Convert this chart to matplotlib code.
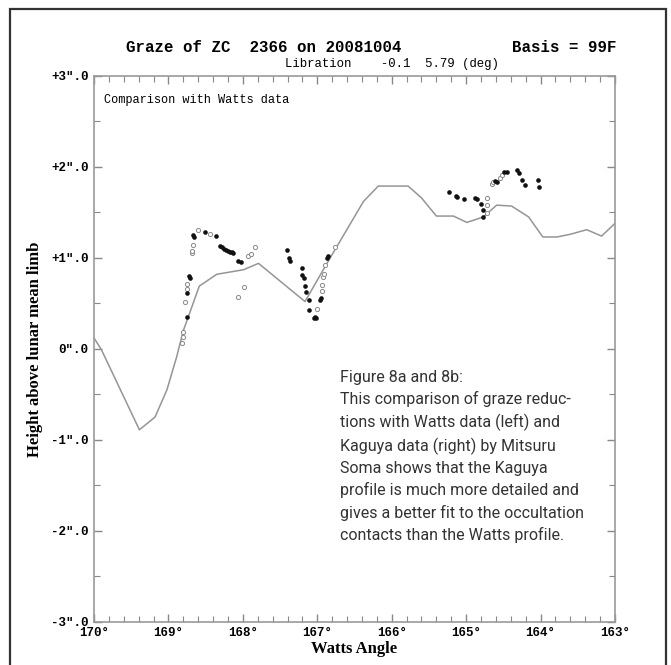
import matplotlib
matplotlib.use('Agg')
import matplotlib.pyplot as plt
import numpy as np
from matplotlib import font_manager
from matplotlib.patches import Rectangle
from matplotlib.ticker import MultipleLocator, FixedLocator

# Watts limb profile (degrees, arcsec)
watts_angle = [170.0, 169.90, 169.39, 169.18, 169.02, 168.89, 168.80, 168.585,
               168.35, 167.99, 167.79, 167.165, 166.87, 166.74, 166.38, 166.18,
               165.78, 165.60, 165.40, 165.17, 164.99, 164.77, 164.59, 164.39,
               164.16, 163.97, 163.78, 163.60, 163.38, 163.18, 163.0]
watts_height = [0.12, -0.01, -0.89, -0.75, -0.45, -0.09, 0.20, 0.69,
                0.82, 0.87, 0.94, 0.52, 0.94, 1.12, 1.62, 1.79,
                1.79, 1.66, 1.46, 1.46, 1.39, 1.45, 1.58, 1.57,
                1.45, 1.23, 1.23, 1.26, 1.31, 1.24, 1.38]

# reduced contacts, filled dots
solid_angle = [168.755, 168.75, 168.71, 168.72, 168.66, 168.67, 168.51, 168.365,
               168.31, 168.28, 168.26, 168.22, 168.20, 168.17, 168.15, 168.13,
               168.06, 168.02, 167.41, 167.38, 167.37, 167.21, 167.20, 167.18,
               167.165, 167.15, 167.11, 167.11, 167.03, 167.02, 167.04, 166.97,
               166.95, 166.87, 166.86,
               165.23, 165.14, 165.12, 165.025, 164.88, 164.86, 164.80, 164.78,
               164.77, 164.61, 164.59, 164.49, 164.455, 164.32, 164.29, 164.25,
               164.21, 164.03, 164.02]
solid_height = [0.35, 0.61, 0.78, 0.80, 1.23, 1.25, 1.29, 1.24,
                1.13, 1.12, 1.10, 1.09, 1.08, 1.07, 1.06, 1.05,
                0.97, 0.96, 1.09, 1.00, 0.97, 0.89, 0.81, 0.78,
                0.69, 0.62, 0.54, 0.43, 0.35, 0.34, 0.34, 0.54,
                0.56, 1.00, 1.02,
                1.72, 1.68, 1.67, 1.645, 1.66, 1.645, 1.59, 1.53,
                1.45, 1.85, 1.84, 1.94, 1.945, 1.97, 1.93, 1.86,
                1.80, 1.86, 1.78]

# open circles
open_angle = [168.82, 168.81, 168.80, 168.78, 168.75, 168.75, 168.69, 168.69,
              168.67, 168.60, 168.44, 167.93, 167.89, 167.84, 167.99, 168.06,
              167.01, 166.94, 166.93, 166.92, 166.91, 166.90, 166.76,
              164.72, 164.72, 164.72, 164.65, 164.635, 164.545, 164.52]
open_height = [0.06, 0.13, 0.19, 0.52, 0.66, 0.71, 1.05, 1.08,
               1.14, 1.31, 1.26, 1.02, 1.04, 1.12, 0.68, 0.57,
               0.44, 0.64, 0.70, 0.79, 0.82, 0.92, 1.12,
               1.66, 1.58, 1.49, 1.81, 1.84, 1.875, 1.91]

x_ticks = [170, 169, 168, 167, 166, 165, 164, 163]
x_labels = ['170°', '169°', '168°', '167°', '166°', '165°', '164°', '163°']
y_ticks = [-3, -2, -1, 0, 1, 2, 3]
y_labels = ['-3".0', '-2".0', '-1".0', '0".0', '+1".0', '+2".0', '+3".0']

caption = ('Figure 8a and 8b:\n'
           'This comparison of graze reduc-\n'
           'tions with Watts data (left) and\n'
           'Kaguya data (right) by Mitsuru\n'
           'Soma shows that the Kaguya\n'
           'profile is much more detailed and\n'
           'gives a better fit to the occultation\n'
           'contacts than the Watts profile.')

names = {f.name for f in font_manager.fontManager.ttflist}
cap_font = 'Liberation Sans Narrow' if 'Liberation Sans Narrow' in names else 'Roboto'
mono = 'Liberation Mono'
serif = 'Liberation Serif'

fig = plt.figure(figsize=(6.71, 6.65), dpi=100)
ax = fig.add_axes([94 / 671, 1 - 621.7 / 665, (615 - 94) / 671, (621.7 - 76) / 665])

ax.plot(watts_angle, watts_height, color='#959595', linewidth=1.1)
ax.scatter(open_angle, open_height, s=9, facecolors='white', edgecolors='#8a8a8a',
           linewidths=0.7, zorder=3)
ax.scatter(solid_angle, solid_height, s=11, color='#111111', linewidths=0, zorder=4)

ax.set_xlim(170, 163)
ax.set_ylim(-3, 3)
ax.xaxis.set_major_locator(FixedLocator(x_ticks))
ax.xaxis.set_minor_locator(MultipleLocator(0.2))
ax.yaxis.set_major_locator(FixedLocator(y_ticks))
ax.yaxis.set_minor_locator(MultipleLocator(0.5))
ax.set_xticklabels(x_labels, fontfamily=mono, fontweight='bold', fontsize=9)
ax.set_yticklabels(y_labels, fontfamily=mono, fontweight='bold', fontsize=9)
ax.tick_params(which='both', direction='in', top=True, right=True, color='#888888')
ax.tick_params(which='major', length=6, width=1, pad=4)
ax.tick_params(which='minor', length=4, width=0.8)
for s in ax.spines.values():
    s.set_color('#999999')
    s.set_linewidth(1.2)

ax.set_xlabel('Watts Angle', fontfamily=serif, fontweight='bold', fontsize=12)
ax.set_ylabel('Height above lunar mean limb', fontfamily=serif, fontweight='bold',
              fontsize=12)
ax.xaxis.set_label_coords(0.5, -0.035)
ax.yaxis.set_label_coords(-0.098, 0.5)

ax.text(0.019, 0.956, 'Comparison with Watts data', transform=ax.transAxes,
        fontfamily=mono, fontsize=8.6, va='center', ha='left')

fig.text(126 / 671, 1 - 48 / 665, 'Graze of ZC  2366 on 20081004', fontfamily=mono,
         fontweight='bold', fontsize=11.3, va='center', ha='left')
fig.text(616 / 671, 1 - 48 / 665, 'Basis = 99F', fontfamily=mono,
         fontweight='bold', fontsize=11.3, va='center', ha='right')
fig.text(285 / 671, 1 - 64 / 665, 'Libration    -0.1  5.79 (deg)', fontfamily=mono,
         fontsize=8.9, va='center', ha='left')

fig.text(340 / 671, 1 - 370 / 665, caption, fontfamily=cap_font, fontsize=11.5,
         color='#333333', va='top', ha='left', linespacing=1.49)

fig.patches.append(Rectangle((10 / 671, -0.02), 656 / 671, 1 - 9 / 665 + 0.02,
                             transform=fig.transFigure, fill=False,
                             edgecolor='#333333', linewidth=1.6))

fig.savefig('out.png', dpi=100)
